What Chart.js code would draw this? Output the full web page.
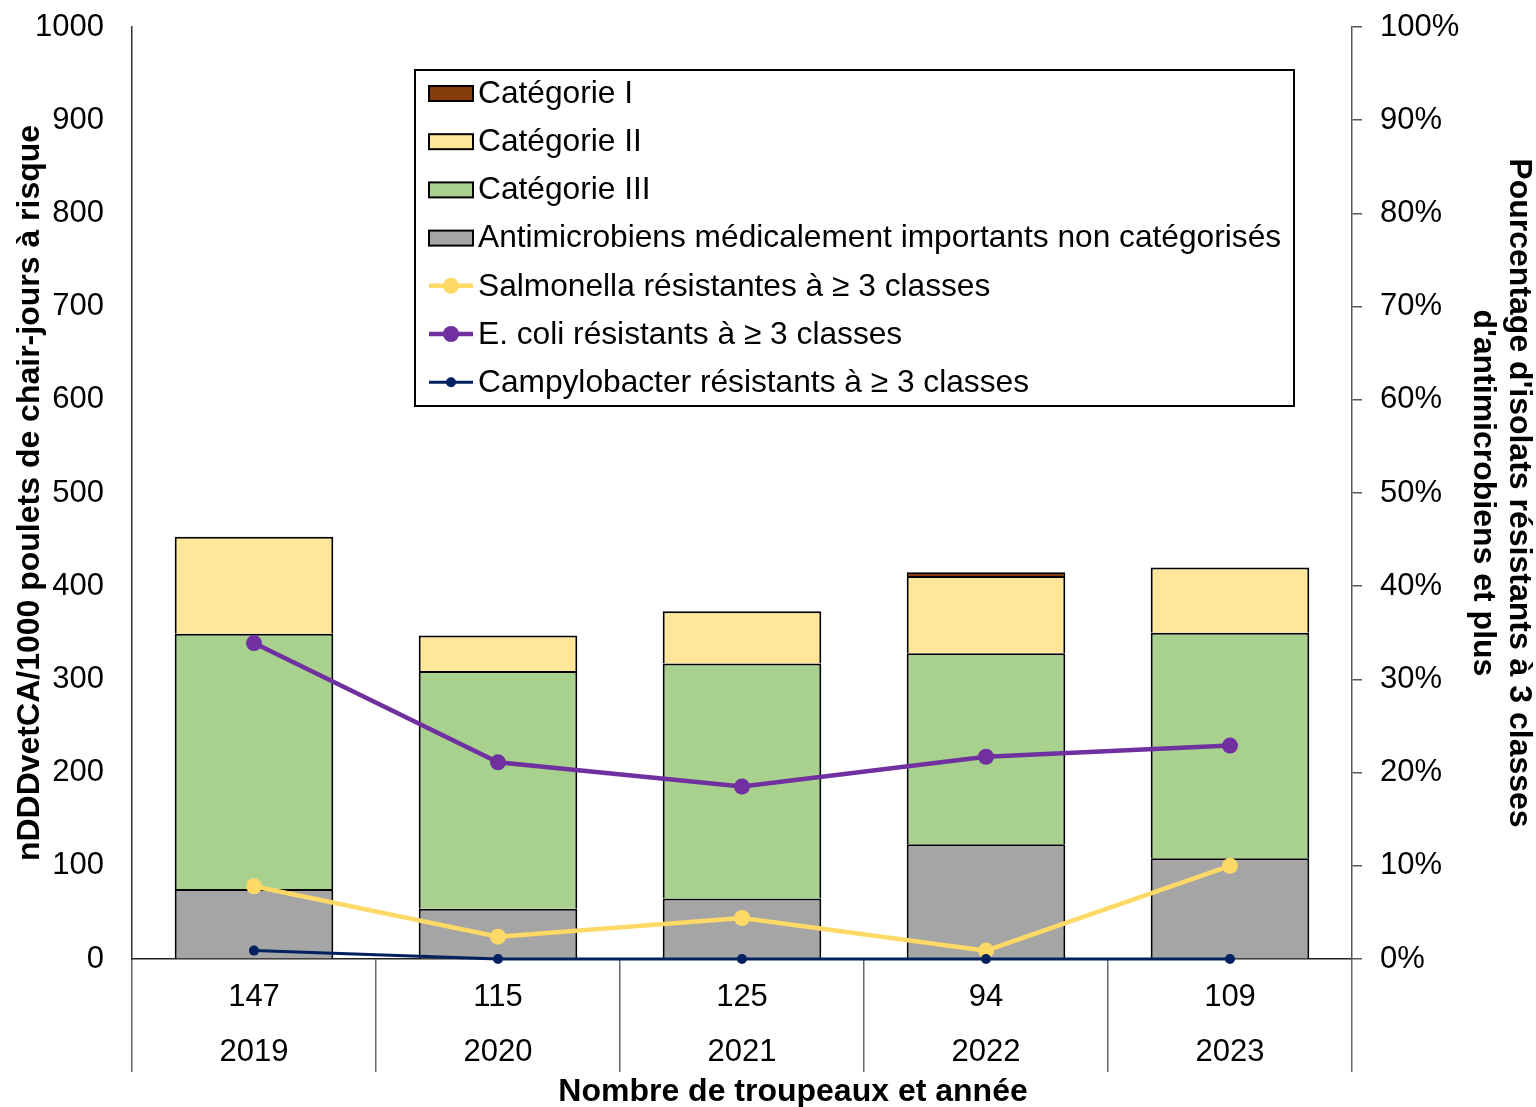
<!DOCTYPE html>
<html>
<head>
<meta charset="utf-8">
<script src="https://cdn.jsdelivr.net/npm/chart.js@4"></script>
<style>
  html, body { margin: 0; padding: 0; background: #fff; }
  #wrap { width: 1536px; height: 1107px; }
</style>
</head>
<body>
<div id="wrap"><canvas id="chart"></canvas></div>
<script>
// flock counts and years (two-line category labels)
const flocks = ['147', '115', '125', '94', '109'];
const years = ['2019', '2020', '2021', '2022', '2023'];

// nDDDvetCA/1000 broiler chicken-days at risk
const catI = [0, 0, 0, 4, 0];
const catII = [104, 38, 56, 83, 70];
const catIII = [274, 255, 252, 205, 242];
const nonCat = [75, 54, 65, 123, 108];

// % isolates resistant to >= 3 classes
const salmonella = [7.8, 2.4, 4.4, 0.9, 10.0];
const ecoli = [33.9, 21.1, 18.5, 21.7, 22.9];
const campylobacter = [0.9, 0, 0, 0, 0];

const FONT = '"Liberation Sans", Arial, sans-serif';
Chart.defaults.font.family = FONT;
Chart.defaults.color = '#000';

const labels = flocks.map((f, i) => [f, years[i]]);

const legendItems = [
  { text: 'Catégorie I', type: 'box', color: '#843C0C' },
  { text: 'Catégorie II', type: 'box', color: '#FFE699' },
  { text: 'Catégorie III', type: 'box', color: '#A9D18E' },
  { text: 'Antimicrobiens médicalement importants non catégorisés', type: 'box', color: '#A5A5A5' },
  { text: 'Salmonella résistantes à ≥ 3 classes', type: 'line', color: '#FFD966', r: 8, w: 4.5 },
  { text: 'E. coli résistants à ≥ 3 classes', type: 'line', color: '#7030A0', r: 8, w: 4.5 },
  { text: 'Campylobacter résistants à ≥ 3 classes', type: 'line', color: '#002060', r: 5, w: 3 }
];

// legend box drawn inside the plot area
const boxLegend = {
  id: 'boxLegend',
  afterDatasetsDraw(chart) {
    const ctx = chart.ctx;
    const a = chart.chartArea;
    const x0 = a.left + 283, y0 = a.top + 43, w = 879, h = 336;
    ctx.save();
    ctx.fillStyle = '#fff';
    ctx.fillRect(x0, y0, w, h);
    ctx.strokeStyle = '#000';
    ctx.lineWidth = 2;
    ctx.strokeRect(x0, y0, w, h);
    ctx.font = '31.7px ' + FONT;
    ctx.textBaseline = 'middle';
    legendItems.forEach((it, i) => {
      const cy = y0 + 23 + i * 48.2;
      const sx = x0 + 14;
      if (it.type === 'box') {
        ctx.fillStyle = it.color;
        ctx.fillRect(sx, cy - 7, 44, 15);
        ctx.lineWidth = 2;
        ctx.strokeStyle = '#000';
        ctx.strokeRect(sx, cy - 7, 44, 15);
      } else {
        ctx.strokeStyle = it.color;
        ctx.lineWidth = it.w;
        ctx.beginPath();
        ctx.moveTo(sx, cy);
        ctx.lineTo(sx + 44, cy);
        ctx.stroke();
        ctx.fillStyle = it.color;
        ctx.beginPath();
        ctx.arc(sx + 22, cy, it.r, 0, Math.PI * 2);
        ctx.fill();
      }
      ctx.fillStyle = '#000';
      ctx.textAlign = 'left';
      ctx.fillText(it.text, sx + 49, cy + 1);
    });
    ctx.restore();
  }
};

// x axis title, centred under the whole figure like the original
const xTitle = {
  id: 'xTitle',
  afterDraw(chart) {
    const ctx = chart.ctx;
    ctx.save();
    ctx.font = 'bold 32px ' + FONT;
    ctx.fillStyle = '#000';
    ctx.textAlign = 'center';
    ctx.textBaseline = 'middle';
    ctx.fillText('Nombre de troupeaux et année', chart.chartArea.left + 661, chart.height - 15);
    ctx.restore();
  }
};

const barDs = (label, data, color) => ({
  type: 'bar',
  label: label,
  data: data,
  backgroundColor: color,
  borderColor: '#000',
  // no outline for empty segments
  borderWidth: c => (c.raw ? 2 : 0),
  // the segment below already draws the shared edge
  borderSkipped: 'bottom',
  yAxisID: 'y',
  order: 2,
  barPercentage: 0.65,
  categoryPercentage: 1
});

const lineDs = (label, data, color, r, w) => ({
  type: 'line',
  label: label,
  data: data,
  borderColor: color,
  backgroundColor: color,
  borderWidth: w,
  pointRadius: r,
  pointHoverRadius: r,
  pointBorderWidth: 0,
  tension: 0,
  yAxisID: 'y1',
  order: 1,
  clip: false
});

const config = {
  data: {
    labels: labels,
    datasets: [
      barDs('Antimicrobiens médicalement importants non catégorisés', nonCat, '#A5A5A5'),
      barDs('Catégorie III', catIII, '#A9D18E'),
      barDs('Catégorie II', catII, '#FFE699'),
      barDs('Catégorie I', catI, '#843C0C'),
      lineDs('Campylobacter résistants à ≥ 3 classes', campylobacter, '#002060', 5, 3),
      lineDs('Salmonella résistantes à ≥ 3 classes', salmonella, '#FFD966', 8, 4.5),
      lineDs('E. coli résistants à ≥ 3 classes', ecoli, '#7030A0', 8, 4.5)
    ]
  },
  options: {
    responsive: true,
    maintainAspectRatio: false,
    animation: false,
    layout: { padding: { top: 27, right: 0, bottom: 0, left: 0 } },
    plugins: {
      legend: { display: false },
      tooltip: { enabled: false }
    },
    scales: {
      x: {
        stacked: true,
        offset: true,
        grid: {
          display: true,
          offset: true,
          drawOnChartArea: false,
          drawTicks: true,
          tickLength: 113,
          color: '#666',
          lineWidth: 1.5
        },
        border: { display: true, color: '#222', width: 1.5 },
        ticks: {
          font: { size: 31, lineHeight: 1.78 },
          padding: -102,
          maxRotation: 0,
          autoSkip: false
        },
        afterFit(s) { s.height = 148; }
      },
      y: {
        stacked: true,
        position: 'left',
        min: 0,
        max: 1000,
        grid: { display: true, drawOnChartArea: false, drawTicks: false },
        border: { display: true, color: '#333', width: 1.5 },
        ticks: { stepSize: 100, font: { size: 31 }, padding: 28, callback: v => String(v) },
        title: {
          display: true,
          text: 'nDDDvetCA/1000 poulets de chair-jours à risque',
          font: { size: 32, weight: 'bold' },
          padding: { top: 11, bottom: 0 }
        },
        afterFit(s) { s.width = 132; s.paddingTop = 0; s.paddingBottom = 0; }
      },
      y1: {
        position: 'right',
        min: 0,
        max: 100,
        grid: { display: true, drawOnChartArea: false, drawTicks: true, tickLength: 10, color: '#555', lineWidth: 1.5 },
        border: { display: true, color: '#555', width: 1.5 },
        ticks: { stepSize: 10, font: { size: 31 }, padding: 18, callback: v => v + '%' },
        title: {
          display: true,
          text: ["Pourcentage d'isolats résistants à 3 classes", "d'antimicrobiens et plus"],
          font: { size: 32, weight: 'bold', lineHeight: 1.1 },
          padding: { top: 0, bottom: 0 }
        },
        afterFit(s) { s.width = 184; s.paddingTop = 0; s.paddingBottom = 0; }
      }
    }
  },
  plugins: [boxLegend, xTitle]
};

new Chart(document.getElementById('chart'), config);
</script>
</body>
</html>
